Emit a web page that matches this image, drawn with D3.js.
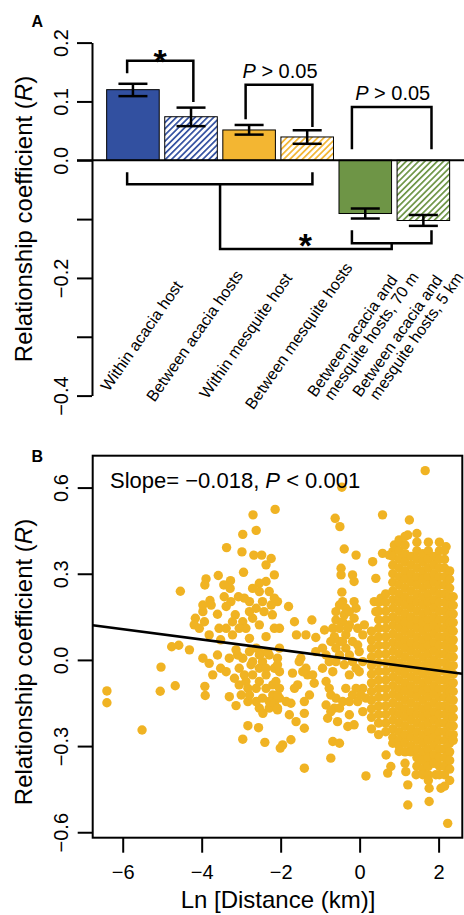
<!DOCTYPE html>
<html>
<head>
<meta charset="utf-8">
<script src="https://cdn.jsdelivr.net/npm/d3@7"></script>
<style>
  body { margin: 0; background: #fff; }
  text { font-family: "Liberation Sans", Arial, Helvetica, sans-serif; fill: #000; }
</style>
</head>
<body>
<div id="chart"></div>
<script>
// ---- panel A data ----
var groups = ['Within acacia host', 'Between acacia hosts', 'Within mesquite host',
    'Between mesquite hosts', 'Between acacia and\nmesquite hosts, 70 m',
    'Between acacia and\nmesquite hosts, 5 km'];
var meanR = [0.120, 0.074, 0.0515, 0.0396, -0.0905, -0.1024];
var errHigh = [0.130, 0.0895, 0.060, 0.051, -0.082, -0.093];
var errLow = [0.109, 0.058, 0.0436, 0.028, -0.099, -0.1115];
var barColor = ['#3250a0', '#3250a0', '#f3b632', '#f3b632', '#6e9546', '#6e9546'];
var hatched = [false, true, false, true, false, true];
var ticksA = [0.2, 0.1, 0, -0.1, -0.2, -0.3, -0.4];

// ---- panel B data ----
var ticksBy = [0.6, 0.3, 0, -0.3, -0.6];
var ticksBx = [-6, -4, -2, 0, 2];
var slope = -0.018, intercept = -0.001;

var sparsePts = [
  [-6.40,-0.108],[-6.40,-0.149],[-5.51,-0.244],[-5.03,-0.025],[-5.05,-0.109],[-4.67,-0.090],
  [-4.76,0.046],[-4.58,0.051],[-4.31,0.035],[-4.54,0.239],[-3.92,-0.092],[-3.91,-0.124],
  [-3.37,0.391],[-2.96,0.437],[-2.70,0.505],[-2.14,0.524],[-2.62,0.451],[-2.98,0.376],
  [-2.68,0.365],[-2.48,0.365],[-2.24,0.353],[-2.94,0.305],[-3.58,0.294],[-3.89,0.282],
  [-3.92,0.261],[-3.27,0.276],[-3.44,0.261],[-3.28,0.249],[-3.07,0.220],[-3.26,0.203],
  [-3.79,0.207],[-3.97,0.168],[-4.16,0.145],[-4.19,0.122],[-3.93,0.133],[-3.60,0.159],
  [-3.38,0.186],[-3.15,0.157],[-3.56,0.110],[-3.81,0.087],[-3.22,0.087],[-2.96,0.133],
  [-2.79,0.203],[-2.54,0.238],[-2.37,0.273],[-2.54,0.267],[-2.29,0.238],[-2.42,0.168],
  [-2.21,0.157],[-2.71,0.145],[-2.54,0.122],[-2.88,0.110],[-2.79,0.075],[-2.37,0.081],
  [-2.16,0.110],[-2.08,0.203],[-2.16,0.296],[-2.37,0.331],[-3.52,0.070],[-3.97,0.006],
  [-3.81,-0.012],[-3.72,-0.052],[-3.52,-0.029],[-3.38,-0.041],[-3.60,0.017],[-3.30,0.006],
  [-3.09,0.017],[-3.05,-0.029],[-2.92,-0.052],[-3.05,-0.087],[-2.83,-0.099],[-3.30,-0.128],
  [-3.13,-0.159],[-2.83,-0.145],[-2.62,-0.099],[-2.54,-0.168],[-2.45,-0.186],[-2.29,-0.168],
  [-2.08,-0.174],[-2.20,-0.122],[-2.20,-0.087],[-2.37,-0.052],[-2.54,-0.029],[-2.71,-0.006],
  [-2.50,0.023],[-2.29,0.017],[-2.08,0.006],[-2.16,-0.029],[-2.83,-0.229],[-2.56,-0.236],
  [-2.96,-0.276],[-2.40,-0.287],[-2.01,-0.307],[-2.03,-0.099],[-2.75,-0.017],[-3.17,-0.064],
  [-3.13,0.035],[-2.96,0.006],[-2.79,0.029],[-2.62,0.041],[-2.46,-0.006],[-2.37,-0.029],
  [-2.88,-0.075],[-2.71,-0.052],[-2.54,-0.075],[-2.37,-0.099],[-2.79,-0.122],[-2.62,-0.145],
  [-2.46,-0.133],[-2.29,-0.145],[-2.16,-0.151],[-2.03,-0.133],[-2.54,0.017],[-3.00,-0.122],
  [-2.33,0.029],[-2.03,0.041],[-2.03,-0.041],[-2.03,0.110],[-2.79,0.168],[-2.62,0.180],
  [-3.05,0.110],[-3.22,0.133],[-3.38,0.110],[-3.76,0.191],[-3.97,0.191],[-4.06,0.110],
  [-3.43,0.220],[-2.92,0.215],[-2.71,0.249],[-2.46,0.203],[-2.24,0.191],[-2.16,0.215],
  [-0.45,0.601],[-0.62,0.493],[-0.50,0.464],[0.58,0.505],[-0.39,0.386],[-0.09,0.365],
  [-0.47,0.319],[-0.47,0.296],[-0.18,0.296],[-0.14,0.273],[-0.45,0.236],[-0.43,0.203],
  [-0.35,0.180],[-0.14,0.203],[-0.09,0.180],[-1.80,0.186],[-1.65,0.133],[-1.21,0.139],
  [-1.60,0.087],[-1.36,0.087],[-1.11,0.078],[-0.89,0.104],[-0.68,0.110],[-0.60,0.139],
  [-0.64,0.081],[-0.43,0.133],[-0.26,0.122],[-0.35,0.087],[-0.18,0.064],[0.12,0.122],
  [0.08,0.087],[-0.05,0.052],[0.37,0.203],[0.54,0.215],[0.41,0.168],[0.33,0.342],
  [0.41,0.284],[0.58,0.371],[0.84,0.377],[0.92,0.394],[-1.11,0.029],[-1.53,-0.006],
  [-1.36,-0.029],[-1.32,-0.052],[-1.70,-0.046],[-1.57,-0.087],[-1.19,-0.052],[-1.15,-0.081],
  [-2.08,-0.017],[-2.12,-0.075],[-2.08,-0.122],[-2.08,-0.168],[-1.74,-0.151],[-1.65,-0.099],
  [-1.40,-0.145],[-1.40,-0.186],[-1.40,-0.238],[-1.61,-0.215],[-1.95,-0.296],[-1.74,-0.278],
  [-1.40,-0.377],[-0.77,-0.006],[-0.68,-0.041],[-0.85,-0.075],[-0.73,-0.122],[-0.85,-0.157],
  [-0.64,-0.168],[-0.81,-0.203],[-0.51,-0.168],[-0.56,-0.215],[-0.68,-0.284],[-0.51,-0.290],
  [-0.73,-0.342],[-0.35,-0.099],[-0.18,-0.122],[-0.26,-0.191],[-0.30,-0.232],[-0.14,-0.226],
  [0.08,-0.099],[0.16,-0.133],[0.08,-0.180],[0.16,-0.404],[-0.51,0.017],[-0.39,-0.017],
  [-0.18,-0.006],[-0.01,-0.041],[-0.77,-0.099],[-0.60,-0.133],[-0.73,-0.180],[-0.43,-0.145],
  [-0.26,-0.145],[-0.09,-0.099],[-0.05,-0.145],[0.03,-0.122],[-0.26,-0.052],[-0.09,-0.029],
  [0.08,-0.006],[-0.60,-0.006],[-0.85,0.017],[-0.94,-0.029],[-0.94,0.041],[-0.73,0.064],
  [-0.51,0.064],[-0.35,0.041],[-0.26,0.017],[-0.01,0.029],[-0.60,0.168],[-0.51,0.191],
  [-0.39,0.157],[-0.26,0.168],[-0.14,0.145],[-0.05,0.110],[-0.51,0.110],[-0.30,0.110],
  [-0.60,0.041],[-0.43,0.064],[-1.49,0.006],[-1.44,-0.041],[-1.27,-0.122],[-1.86,-0.145],
  [-1.78,-0.191],
  [1.66,0.659],[1.26,0.487],[1.22,0.435],[2.19,0.394],[2.27,0.307],[0.75,0.365],
  [0.71,-0.394],[0.79,-0.371],[1.22,-0.435],[1.22,-0.505],[1.43,-0.400],[1.76,-0.447],
  [1.76,-0.493],[1.93,-0.400],[2.06,-0.447],[2.23,-0.569],[1.17,-0.389],[0.67,-0.331],
  [1.00,-0.319],[0.88,0.400],[1.00,0.418]
];

// dense band near 1-10 km: one list of R values for each ln-distance column
var denseCols = [
  { x: 0.30, r: [0.10,0.07,0.04,0.01,-0.02,-0.05,-0.08,-0.11,-0.14,-0.17,-0.20,-0.24] },
  { x: 0.48, r: [0.20,0.17,0.14,0.11,0.08,0.05,0.02,-0.01,-0.04,-0.07,-0.10,-0.13,-0.16,-0.19,-0.22,-0.26] },
  { x: 0.66, r: [0.23,0.20,0.17,0.14,0.11,0.08,0.05,0.02,-0.01,-0.04,-0.07,-0.10,-0.13,-0.16,-0.19,-0.22,-0.25] },
  { x: 0.84, r: [0.36,0.33,0.30,0.27,0.24,0.21,0.18,0.15,0.12,0.09,0.06,0.03,0.00,-0.03,-0.06,-0.09,-0.12,-0.15,-0.18,-0.21,-0.24,-0.27,-0.29] },
  { x: 1.00, r: [0.41,0.38,0.35,0.32,0.29,0.26,0.23,0.20,0.17,0.14,0.11,0.08,0.05,0.02,-0.01,-0.04,-0.07,-0.10,-0.13,-0.16,-0.19,-0.22,-0.25,-0.28,-0.30] },
  { x: 1.15, r: [0.43,0.40,0.37,0.34,0.31,0.28,0.25,0.22,0.19,0.16,0.13,0.10,0.07,0.04,0.01,-0.02,-0.05,-0.08,-0.11,-0.14,-0.17,-0.20,-0.23,-0.26,-0.29,-0.32,-0.36] },
  { x: 1.30, r: [0.36,0.33,0.30,0.27,0.24,0.21,0.18,0.15,0.12,0.09,0.06,0.03,0.00,-0.03,-0.06,-0.09,-0.12,-0.15,-0.18,-0.21,-0.24,-0.27,-0.30,-0.32] },
  { x: 1.45, r: [0.44,0.41,0.38,0.35,0.32,0.29,0.26,0.23,0.20,0.17,0.14,0.11,0.08,0.05,0.02,-0.01,-0.04,-0.07,-0.10,-0.13,-0.16,-0.19,-0.22,-0.25,-0.28,-0.31,-0.34,-0.37] },
  { x: 1.60, r: [0.37,0.34,0.31,0.28,0.25,0.22,0.19,0.16,0.13,0.10,0.07,0.04,0.01,-0.02,-0.05,-0.08,-0.11,-0.14,-0.17,-0.20,-0.23,-0.26,-0.29,-0.32,-0.35,-0.38,-0.40] },
  { x: 1.74, r: [0.41,0.38,0.35,0.32,0.29,0.26,0.23,0.20,0.17,0.14,0.11,0.08,0.05,0.02,-0.01,-0.04,-0.07,-0.10,-0.13,-0.16,-0.19,-0.22,-0.25,-0.28,-0.31,-0.34,-0.37,-0.40,-0.42] },
  { x: 1.88, r: [0.36,0.33,0.30,0.27,0.24,0.21,0.18,0.15,0.12,0.09,0.06,0.03,0.00,-0.03,-0.06,-0.09,-0.12,-0.15,-0.18,-0.21,-0.24,-0.27,-0.30,-0.33,-0.36] },
  { x: 2.02, r: [0.41,0.38,0.35,0.32,0.29,0.26,0.23,0.20,0.17,0.14,0.11,0.08,0.05,0.02,-0.01,-0.04,-0.07,-0.10,-0.13,-0.16,-0.19,-0.22,-0.25,-0.28,-0.31,-0.34,-0.37,-0.40] },
  { x: 2.15, r: [0.38,0.35,0.32,0.29,0.26,0.23,0.20,0.17,0.14,0.11,0.08,0.05,0.02,-0.01,-0.04,-0.07,-0.10,-0.13,-0.16,-0.19,-0.22,-0.25,-0.28,-0.31,-0.34,-0.37,-0.40,-0.44] },
  { x: 2.28, r: [0.31,0.28,0.25,0.22,0.19,0.16,0.13,0.10,0.07,0.04,0.01,-0.02,-0.05,-0.08,-0.11,-0.14,-0.17,-0.20,-0.23,-0.26,-0.29,-0.32,-0.35,-0.38,-0.42] },
  { x: 2.37, r: [0.22,0.19,0.16,0.13,0.10,0.07,0.04,0.01,-0.02,-0.05,-0.08,-0.11,-0.14,-0.17,-0.20,-0.23,-0.26,-0.28] }
];

var width = 464,
    height = 915;

var svg = d3.select('#chart')
    .append('svg')
    .attr('width', width)
    .attr('height', height);

// hatch patterns for the "between" bars
var defs = svg.append('defs');
['#3250a0', '#f3b632', '#6e9546'].forEach(function (c, i) {
    var p = defs.append('pattern')
        .attr('id', 'hatch' + i)
        .attr('patternUnits', 'userSpaceOnUse')
        .attr('width', 4.4)
        .attr('height', 4.4)
        .attr('patternTransform', 'rotate(45)');
    p.append('rect').attr('width', 4.4).attr('height', 4.4).attr('fill', '#fff');
    p.append('rect').attr('width', 1.7).attr('height', 4.4).attr('fill', c);
});

// =================== Panel A ===================
var yA = d3.scaleLinear().domain([-0.4, 0.2]).range([395.6, 42.6]);
var xA = d3.scaleBand()
    .domain(d3.range(groups.length))
    .range([103.9, 452.4])
    .paddingInner(0.095)
    .paddingOuter(0.0475);
var bw = xA.bandwidth();
// bar index (fractional) -> centre pixel, used for brackets
var idx = d3.scaleLinear().domain([0, 1]).range([xA(0) + bw / 2, xA(1) + bw / 2]);

svg.append('text')
    .attr('x', 31.5).attr('y', 26.7)
    .attr('font-size', 16).attr('font-weight', 'bold')
    .text('A');

var fmt = d3.format('.1f');
svg.append('g')
    .attr('transform', 'translate(92,0)')
    .call(d3.axisLeft(yA).tickValues(ticksA).tickSize(15).tickSizeOuter(0)
        .tickFormat(function (d) { return (d === -0.1 || d === -0.3) ? '' : fmt(d); }))
    .call(function (g) {
        g.attr('font-size', 20).attr('font-family', null);
        g.selectAll('path, line').attr('stroke-width', 2);
        g.selectAll('text')
            .attr('x', 0).attr('dy', 0)
            .attr('transform', 'translate(-24,0) rotate(-90)')
            .attr('text-anchor', 'middle');
    });

svg.append('text')
    .attr('transform', 'translate(32,' + 219 + ') rotate(-90)')
    .attr('text-anchor', 'middle')
    .attr('font-size', 24)
    .html('Relationship coefficient (<tspan font-style="italic">R</tspan>)');

// bars
svg.append('g').selectAll('rect')
    .data(meanR)
    .enter()
    .append('rect')
    .attr('x', function (d, i) { return xA(i); })
    .attr('y', function (d) { return yA(Math.max(0, d)); })
    .attr('width', bw)
    .attr('height', function (d) { return Math.abs(yA(d) - yA(0)); })
    .attr('fill', function (d, i) {
        return hatched[i] ? 'url(#hatch' + Math.floor(i / 2) + ')' : barColor[i];
    })
    .attr('stroke', '#000')
    .attr('stroke-width', 1);

// zero line
svg.append('line')
    .attr('x1', 77).attr('x2', width)
    .attr('y1', yA(0)).attr('y2', yA(0))
    .attr('stroke', '#000').attr('stroke-width', 2);

// error bars
var eb = svg.append('g').attr('stroke', '#000').attr('stroke-width', 2.5);
meanR.forEach(function (d, i) {
    var cx = xA(i) + bw / 2;
    eb.append('line').attr('x1', cx).attr('x2', cx).attr('y1', yA(errHigh[i])).attr('y2', yA(errLow[i]));
    [errHigh[i], errLow[i]].forEach(function (v) {
        eb.append('line').attr('x1', cx - 14.5).attr('x2', cx + 14.5).attr('y1', yA(v)).attr('y2', yA(v));
    });
});

// significance brackets (x in bar-index units, y in R units)
var brackets = [
    [[-0.10, 0.148], [-0.10, 0.169], [1.04, 0.169], [1.04, 0.099]],
    [[1.94, 0.0696], [1.94, 0.1285], [3.09, 0.1285], [3.09, 0.0565]],
    [[3.77, 0.0187], [3.77, 0.0905], [5.14, 0.0905], [5.14, 0.0187]],
    [[-0.10, -0.0204], [-0.10, -0.0407], [3.09, -0.0407], [3.09, -0.0204]],
    [[1.5, -0.0407], [1.5, -0.151], [4.455, -0.151], [4.455, -0.141]],
    [[3.77, -0.119], [3.77, -0.141], [5.14, -0.141], [5.14, -0.119]]
];
var bline = d3.line()
    .x(function (p) { return idx(p[0]); })
    .y(function (p) { return yA(p[1]); });
svg.append('g').selectAll('path')
    .data(brackets)
    .enter()
    .append('path')
    .attr('d', bline)
    .attr('fill', 'none')
    .attr('stroke', '#000')
    .attr('stroke-width', 2.5);

// stars
[[0.47, 0.169, 6.6], [2.97, -0.151, 11.5]].forEach(function (s) {
    svg.append('text')
        .attr('x', idx(s[0]))
        .attr('y', yA(s[1]) - s[2] + 19)
        .attr('text-anchor', 'middle')
        .attr('font-size', 34).attr('font-weight', 'bold')
        .text('*');
});
// P labels
[[2.515, 0.1285], [4.455, 0.0905]].forEach(function (s) {
    svg.append('text')
        .attr('x', idx(s[0]) + 1)
        .attr('y', yA(s[1]) - 7)
        .attr('text-anchor', 'middle')
        .attr('font-size', 20)
        .html('<tspan font-style="italic">P</tspan> &gt; 0.05');
});

// category labels, rotated; second lines sit beside the first
var labelShift = [13, 8, 1, -4, 1, -12];
groups.forEach(function (name, i) {
    var lines = name.split('\n');
    lines.forEach(function (ln, k) {
        var off = lines.length === 1 ? 0 : (k === 0 ? -9.5 : 9.5);
        svg.append('text')
            .attr('transform', 'translate(' + (xA(i) + bw / 2 + labelShift[i] + off) + ',339) rotate(-55)')
            .attr('text-anchor', 'middle')
            .attr('font-size', 16)
            .text(ln);
    });
});

// =================== Panel B ===================
var xB = d3.scaleLinear().domain([-6.76, 2.6]).range([92.7, 462.3]);
var yB = d3.scaleLinear().domain([-0.619, 0.711]).range([837.7, 455.7]);

svg.append('text')
    .attr('x', 31.5).attr('y', 461.7)
    .attr('font-size', 16).attr('font-weight', 'bold')
    .text('B');

var pts = sparsePts.slice();
denseCols.forEach(function (c) {
    c.r.forEach(function (r) { pts.push([c.x, r]); });
});

svg.append('g').selectAll('circle')
    .data(pts)
    .enter()
    .append('circle')
    .attr('cx', function (d) { return xB(d[0]); })
    .attr('cy', function (d) { return yB(d[1]); })
    .attr('r', 4.7)
    .attr('fill', '#f0b323');

// regression line
var dom = xB.domain();
svg.append('path')
    .datum(dom.map(function (x) { return [x, intercept + slope * x]; }))
    .attr('d', d3.line()
        .x(function (d) { return xB(d[0]); })
        .y(function (d) { return yB(d[1]); }))
    .attr('stroke', '#000').attr('stroke-width', 2.5).attr('fill', 'none');

// box
svg.append('rect')
    .attr('x', 92.7).attr('y', 455.7)
    .attr('width', 462.3 - 92.7).attr('height', 837.7 - 455.7)
    .attr('fill', 'none').attr('stroke', '#000').attr('stroke-width', 2);

svg.append('g')
    .attr('transform', 'translate(92.7,0)')
    .call(d3.axisLeft(yB).tickValues(ticksBy).tickSize(15).tickSizeOuter(0).tickFormat(fmt))
    .call(function (g) {
        g.attr('font-size', 20).attr('font-family', null);
        g.select('.domain').remove();
        g.selectAll('line').attr('stroke-width', 2);
        g.selectAll('text')
            .attr('x', 0).attr('dy', 0)
            .attr('transform', 'translate(-24.7,0) rotate(-90)')
            .attr('text-anchor', 'middle');
    });

svg.append('g')
    .attr('transform', 'translate(0,837.7)')
    .call(d3.axisBottom(xB).tickValues(ticksBx).tickSize(15).tickSizeOuter(0).tickFormat(d3.format('d')))
    .call(function (g) {
        g.attr('font-size', 20).attr('font-family', null);
        g.select('.domain').remove();
        g.selectAll('line').attr('stroke-width', 2);
        g.selectAll('text').attr('y', 41.3).attr('dy', 0);
    });

svg.append('text')
    .attr('x', 110).attr('y', 488)
    .attr('font-size', 22)
    .html('Slope= \u22120.018, <tspan font-style="italic">P</tspan> &lt; 0.001');

svg.append('text')
    .attr('transform', 'translate(32,662) rotate(-90)')
    .attr('text-anchor', 'middle')
    .attr('font-size', 24)
    .html('Relationship coefficient (<tspan font-style="italic">R</tspan>)');

svg.append('text')
    .attr('x', 278).attr('y', 908)
    .attr('text-anchor', 'middle')
    .attr('font-size', 24)
    .text('Ln [Distance (km)]');
</script>
</body>
</html>
